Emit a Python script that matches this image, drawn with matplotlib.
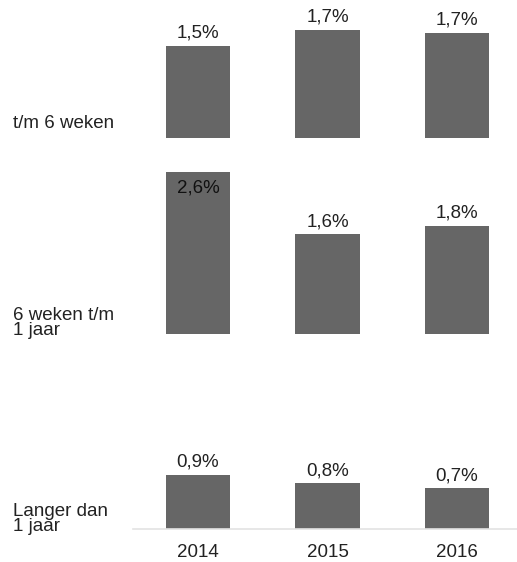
import matplotlib
matplotlib.use("Agg")
import matplotlib.pyplot as plt

plt.rcParams['font.family'] = ['Liberation Sans', 'DejaVu Sans']

years = ["2014", "2015", "2016"]
row_labels = ["t/m 6 weken", "6 weken t/m\n1 jaar", "Langer dan\n1 jaar"]
vals_short = [1.48, 1.74, 1.69]
vals_mid = [2.61, 1.61, 1.75]
vals_long = [0.88, 0.74, 0.66]
lab_short = ["1,5%", "1,7%", "1,7%"]
lab_mid = ["2,6%", "1,6%", "1,8%"]
lab_long = ["0,9%", "0,8%", "0,7%"]

series = [vals_short, vals_mid, vals_long]
labels = [lab_short, lab_mid, lab_long]

W, H = 517, 562
fig = plt.figure(figsize=(W / 100, H / 100), dpi=100)

bar_color = "#666666"
txt_color = "#222222"
fs = 13.5
ymax = 2.61
panel_h = 161.7
bottoms_px = [137.7, 334.0, 529.3]
left_px = 133.25
width_px = 388.5
label_baselines_px = [127.5, 335.0, 531.0]

x = list(range(len(years)))
for i, (vals, labs) in enumerate(zip(series, labels)):
    b = bottoms_px[i]
    ax = fig.add_axes([left_px / W, 1 - b / H, width_px / W, panel_h / H])
    ax.bar(x, vals, width=0.5, color=bar_color)
    ax.set_xlim(-0.5, 2.5)
    ax.set_ylim(0, ymax)
    ax.set_facecolor("none")
    for s in ax.spines.values():
        s.set_visible(False)
    ax.set_yticks([])
    for xi, v, t in zip(x, vals, labs):
        if v > ymax * 0.9:
            ax.annotate(t, (xi, v), xytext=(0, -5.5), textcoords="offset points",
                        ha="center", va="top", fontsize=fs, color="#111111",
                        annotation_clip=False)
        else:
            ax.annotate(t, (xi, v), xytext=(0, 3), textcoords="offset points",
                        ha="center", va="bottom", fontsize=fs, color=txt_color,
                        annotation_clip=False)
    if i == 2:
        ax.spines["bottom"].set_visible(True)
        ax.spines["bottom"].set_color("#e3e3e3")
        ax.spines["bottom"].set_linewidth(1.2)
        ax.set_xticks(x)
        ax.set_xticklabels(years, fontsize=fs, color=txt_color)
        ax.tick_params(axis="x", length=0, pad=10.5)
    else:
        ax.set_xticks([])
    fig.text(13 / W, 1 - label_baselines_px[i] / H, row_labels[i], ha="left",
             va="baseline", fontsize=fs, color=txt_color, linespacing=0.82)

fig.savefig("out.png", dpi=100)
